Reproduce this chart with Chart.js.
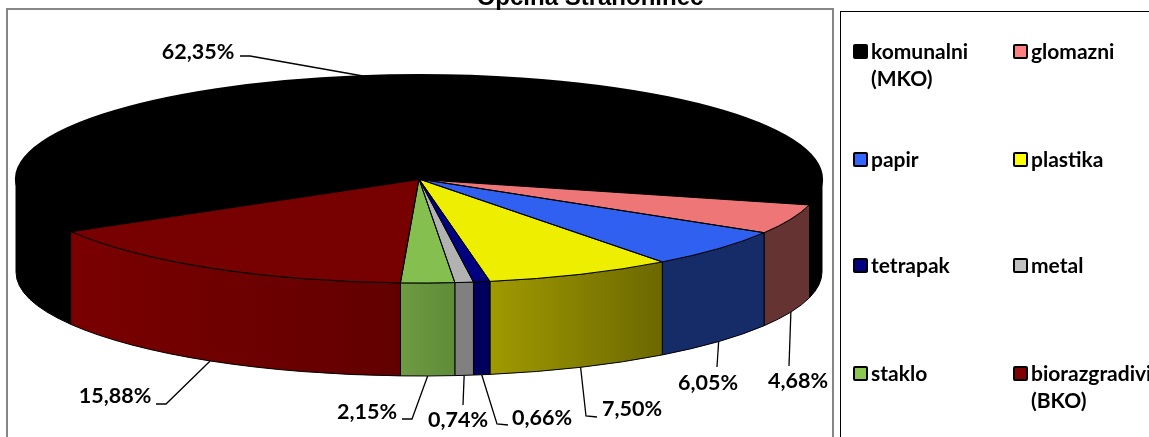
<!DOCTYPE html>
<html>
<head>
<meta charset="utf-8">
<title>Općina Strahoninec</title>
<script src="https://cdn.jsdelivr.net/npm/chart.js@4/dist/chart.umd.min.js"></script>
<style>
    body { margin: 0; width: 1149px; height: 437px; overflow: hidden; background: #fff; position: relative; font-family: Lato, sans-serif; }
    #pie { position: absolute; left: 0; top: 0; }
    #frame { position: absolute; left: 6px; top: 8px; width: 824px; height: 460px; border: 2px solid #868686; }
    #title { position: absolute; left: 390px; width: 400px; top: -15px; text-align: center; font: bold 24px/24px "Liberation Sans", sans-serif; color: #000; white-space: nowrap; }
    #legendBox { position: absolute; left: 840px; top: 11px; width: 400px; height: 460px; border: 1px solid #000; }
    .item { position: absolute; font: bold 21px/27px Lato, sans-serif; color: #000; white-space: pre-line; }
    .swatch { position: absolute; box-sizing: border-box; width: 15px; height: 15px; border: 2px solid #000; border-radius: 2px; }
</style>
</head>
<body>
<canvas id="pie" width="1149" height="437"></canvas>
<div id="frame"></div>
<div id="title">Općina Strahoninec</div>
<div id="legendBox"></div>
<script>
const categories = ['komunalni\n(MKO)', 'glomazni', 'papir', 'plastika', 'tetrapak', 'metal', 'staklo', 'biorazgradivi\n(BKO)'];
const shares = [62.35, 4.68, 6.05, 7.50, 0.66, 0.74, 2.15, 15.88];

const topColors = ['#000000', '#ee7676', '#3060f0', '#eeee00', '#000080', '#b2b2b2', '#85bf4f', '#770000'];
const legendColors = ['#000000', '#ff8080', '#3366ff', '#ffff00', '#000080', '#c0c0c0', '#8bc84f', '#800000'];
const wallLeft = ['#000000', '#663333', '#152c68', '#a09a00', '#00005c', '#808080', '#6e9a42', '#7a0000'];
const wallRight = ['#000000', '#663333', '#152c68', '#6c6800', '#00005c', '#808080', '#5f8c38', '#620000'];

// text centre, then the elbow points of the leader line going from the text to the slice
const callouts = [
    { x: 198, y: 52, path: [[240, 56], [250, 56]], onTop: true },
    { x: 798, y: 381, path: [[789, 366]] },
    { x: 708, y: 383, path: [[717, 367]] },
    { x: 632, y: 409, path: [[597, 417], [586, 416]] },
    { x: 542, y: 418, path: [[508, 425], [497, 424]] },
    { x: 458, y: 420, path: [[463, 405]] },
    { x: 367, y: 412, path: [[402, 419], [412, 419]] },
    { x: 115, y: 396, path: [[156, 404], [166, 404]] }
];

const centerX = 419, centerY = 179, radiusX = 403, radiusY = 104, depth = 93;
const baseRadius = 100;

function wallRanges(a1, a2) {
    const out = [];
    [[0, Math.PI], [2 * Math.PI, 3 * Math.PI]].forEach(band => {
        const s = Math.max(a1, band[0]), e = Math.min(a2, band[1]);
        if (e > s) out.push([s, e]);
    });
    return out;
}

const pie3d = {
    id: 'pie3d',
    beforeDatasetsDraw(chart) {
        const ctx = chart.ctx;
        const arcs = chart.getDatasetMeta(0).data;
        ctx.save();
        ctx.strokeStyle = '#000';
        ctx.lineWidth = 1;
        arcs.forEach((arc, i) => {
            const p = arc.getProps(['x', 'y', 'startAngle', 'endAngle']);
            wallRanges(p.startAngle, p.endAngle).forEach(r => {
                const x1 = p.x + radiusX * Math.cos(r[1]);
                const x2 = p.x + radiusX * Math.cos(r[0]);
                const g = ctx.createLinearGradient(x1, 0, x2, 0);
                g.addColorStop(0, wallLeft[i]);
                g.addColorStop(1, wallRight[i]);
                ctx.beginPath();
                ctx.ellipse(p.x, p.y, radiusX, radiusY, 0, r[0], r[1]);
                ctx.ellipse(p.x, p.y + depth, radiusX, radiusY, 0, r[1], r[0], true);
                ctx.closePath();
                ctx.fillStyle = g;
                ctx.fill();
                ctx.stroke();
            });
        });
        ctx.restore();

        // the library's arcs are circles, squash them into the tilted top face
        const c = arcs[0].getProps(['x', 'y', 'outerRadius']);
        ctx.save();
        ctx.translate(c.x, c.y);
        ctx.scale(radiusX / c.outerRadius, radiusY / c.outerRadius);
        ctx.translate(-c.x, -c.y);
    },
    afterDatasetsDraw(chart) {
        const ctx = chart.ctx;
        ctx.restore();
        const arcs = chart.getDatasetMeta(0).data;
        ctx.save();
        ctx.strokeStyle = '#000';
        arcs.forEach((arc, i) => {
            const p = arc.getProps(['x', 'y', 'startAngle', 'endAngle']);
            ctx.lineWidth = i === 0 ? 2 : 1;
            ctx.beginPath();
            ctx.moveTo(p.x, p.y);
            ctx.ellipse(p.x, p.y, radiusX, radiusY, 0, p.startAngle, p.endAngle);
            ctx.closePath();
            ctx.stroke();
        });

        ctx.lineWidth = 1.3;
        ctx.fillStyle = '#000';
        ctx.font = 'bold 21.5px Lato, sans-serif';
        ctx.textAlign = 'center';
        ctx.textBaseline = 'middle';
        arcs.forEach((arc, i) => {
            const p = arc.getProps(['x', 'y', 'startAngle', 'endAngle']);
            const mid = (p.startAngle + p.endAngle) / 2;
            const info = callouts[i];
            const ax = p.x + radiusX * Math.cos(mid);
            const ay = p.y + radiusY * Math.sin(mid) + (info.onTop ? 0 : depth);
            ctx.beginPath();
            info.path.forEach((pt, n) => {
                if (n === 0) ctx.moveTo(pt[0], pt[1]);
                else ctx.lineTo(pt[0], pt[1]);
            });
            ctx.lineTo(ax, ay);
            ctx.stroke();
            ctx.fillText(shares[i].toFixed(2).replace('.', ',') + '%', info.x, info.y);
        });
        ctx.restore();
    }
};

new Chart(document.getElementById('pie').getContext('2d'), {
    type: 'pie',
    data: {
        labels: categories,
        datasets: [{
            data: shares,
            backgroundColor: topColors,
            borderWidth: 0,
            clip: false
        }]
    },
    options: {
        responsive: false,
        animation: false,
        rotation: 239.8,
        layout: {
            padding: {
                left: centerX - baseRadius,
                right: 1149 - centerX - baseRadius,
                top: centerY - baseRadius,
                bottom: 437 - centerY - baseRadius
            }
        },
        plugins: { legend: { display: false }, tooltip: { enabled: false } }
    },
    plugins: [pie3d]
});

// legend, two columns of four rows
const columnX = [853, 1013];
const rowY = [44, 152, 258, 366];
categories.forEach((name, i) => {
    const x = columnX[i % 2], y = rowY[Math.floor(i / 2)];
    const sw = document.createElement('div');
    sw.className = 'swatch';
    sw.style.left = x + 'px';
    sw.style.top = y + 'px';
    sw.style.background = legendColors[i];
    document.body.appendChild(sw);
    const label = document.createElement('div');
    label.className = 'item';
    label.style.left = (x + 18) + 'px';
    label.style.top = (y - 7) + 'px';
    label.textContent = name;
    document.body.appendChild(label);
});
</script>
</body>
</html>
